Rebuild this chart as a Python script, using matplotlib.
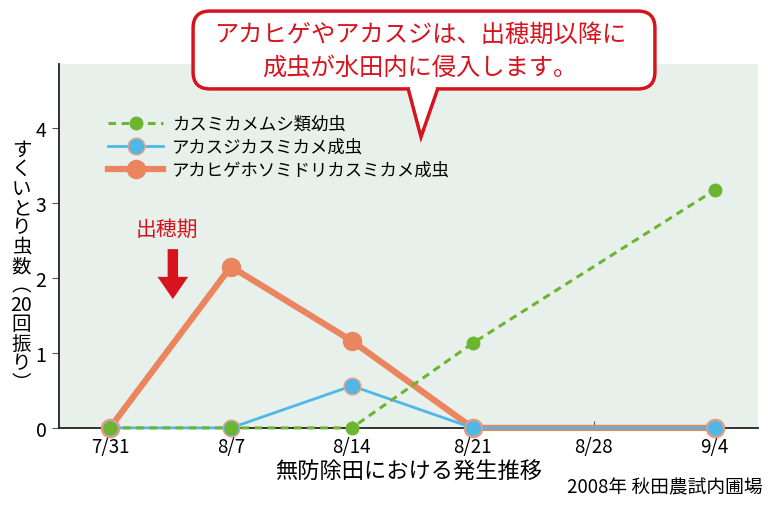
import matplotlib.pyplot as plt
from matplotlib.patches import FancyBboxPatch, Polygon

plt.rcParams['font.family'] = ['Noto Sans CJK JP', 'DejaVu Sans']

# data
dates = ['7/31', '8/7', '8/14', '8/21', '8/28', '9/4']
day_pos = [0, 7, 14, 21, 28, 35]
sample_days = [0, 7, 14, 21, 35]  # no survey on 8/28
nymph = [0, 0, 0, 1.13, 3.17]
akasuji = [0, 0, 0.56, 0, 0]
akahige = [0, 2.15, 1.16, 0, 0]
labels = ['カスミカメムシ類幼虫', 'アカスジカスミカメ成虫', 'アカヒゲホソミドリカスミカメ成虫']

fig = plt.figure(figsize=(7.68, 5.10), dpi=100)
ax = fig.add_axes([0.0768, 0.159, 0.91, 0.7135])
ax.set_facecolor('#e8f0ec')

l3, = ax.plot(sample_days, akahige, color='#eb8560', lw=4.5, marker='o',
              markersize=13, markeredgecolor='#eb8560', clip_on=False, zorder=3)
l2, = ax.plot(sample_days, akasuji, color='#4fb8e6', lw=2, marker='o',
              markersize=12, markeredgecolor='#f0a080', markeredgewidth=1,
              clip_on=False, zorder=4)
l1, = ax.plot(sample_days, nymph, color='#6cb52e', lw=2.2, ls=(0, (2.5, 1.8)),
              marker='o', markersize=9, clip_on=False, zorder=5)

ax.set_xlim(-2.95, 37.5)
ax.set_ylim(0, 4.85)
ax.set_xticks(day_pos)
ax.set_xticklabels(dates)
ax.set_yticks([0, 1, 2, 3, 4])
ax.tick_params(axis='x', direction='in', length=5, labelsize=13.5, pad=6, color='#555555')
ax.tick_params(axis='y', direction='out', length=5, labelsize=14, pad=4, color='#555555')
for s in ['top', 'right']:
    ax.spines[s].set_visible(False)
for s in ['left', 'bottom']:
    ax.spines[s].set_color('#222222')
    ax.spines[s].set_linewidth(1.3)

ax.set_xlabel('無防除田における発生推移', fontsize=16, labelpad=2)

# vertical y label
ylab = '\n'.join(['す', 'く', 'い', 'と', 'り', '虫', '数', '︵', '20', '回', '振', 'り', '︶'])
fig.text(0.028, 0.477, ylab, fontsize=14, ha='center', va='center', linespacing=0.9)

leg = ax.legend([l1, l2, l3], labels, loc='upper left', bbox_to_anchor=(0.06, 0.88),
                frameon=False, fontsize=12.5, handlelength=3.2, handletextpad=0.5,
                labelspacing=0.3, borderaxespad=0)

# heading time marker
ax.text(3.3, 2.66, '出穂期', color='#d7141e', fontsize=15, ha='center', va='center')
ax.annotate('', xy=(3.64, 1.68), xytext=(3.64, 2.42),
            arrowprops=dict(arrowstyle='simple,head_width=2.2,head_length=1.6,tail_width=0.75',
                            color='#d7141e', lw=0))

fig.text(0.993, 0.022, '2008年 秋田農試内圃場', fontsize=13.5, ha='right', va='bottom')

# callout
red = '#d7141e'
box = FancyBboxPatch((200 / 768, 1 - 83 / 510), 448 / 768, 64 / 510,
                     boxstyle='round,pad=0.009,rounding_size=0.022',
                     transform=fig.transFigure, facecolor='white', edgecolor=red,
                     lw=2.5, zorder=10, mutation_aspect=768 / 510)
fig.add_artist(box)
tail = [(408 / 768, 1 - 89 / 510), (421 / 768, 1 - 138 / 510), (438 / 768, 1 - 89 / 510)]
fig.add_artist(Polygon(tail, closed=False, transform=fig.transFigure, facecolor='white',
                       edgecolor=red, lw=2.5, zorder=11, joinstyle='miter'))
fig.add_artist(Polygon([(410 / 768, 1 - 88 / 510), (421 / 768, 1 - 130 / 510), (436 / 768, 1 - 88 / 510),
                        (436 / 768, 1 - 84 / 510), (410 / 768, 1 - 84 / 510)],
                       transform=fig.transFigure, facecolor='white', edgecolor='none', zorder=12))
fig.text(420 / 768, 1 - 35 / 510, 'アカヒゲやアカスジは、出穂期以降に', color=red,
         fontsize=17.5, ha='center', va='center', zorder=13)
fig.text(420 / 768, 1 - 67 / 510, '成虫が水田内に侵入します。', color=red,
         fontsize=17.5, ha='center', va='center', zorder=13)

fig.savefig('out.png', dpi=100)
